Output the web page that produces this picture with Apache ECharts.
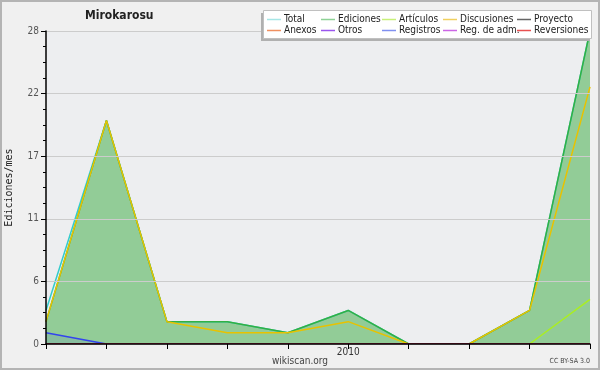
<!DOCTYPE html>
<html>
<head>
<meta charset="utf-8">
<script src="https://cdn.jsdelivr.net/npm/echarts@6/dist/echarts.min.js"></script>
<style>
  html, body { margin: 0; padding: 0; background: #f0f0f0; }
  #chart { width: 600px; height: 370px; }
</style>
</head>
<body>
<div id="chart"></div>
<script>
// meses (eje x)
var months = ['2009-08', '2009-09', '2009-10', '2009-11', '2009-12',
              '2010-01', '2010-02', '2010-03', '2010-04', '2010-05'];

// ediciones por mes
var total       = [3, 20, 2, 2, 1, 3, 0, 0, 3, 28];
var ediciones   = [2, 20, 2, 2, 1, 3, 0, 0, 3, 28];
var articulos   = [0, 0, 0, 0, 0, 0, 0, 0, 0, 4];
var discusiones = [2, 20, 2, 1, 1, 2, 0, 0, 3, 23];
var proyecto    = [0, 0, 0, 0, 0, 0, 0, 0, 0, 0];
var anexos      = [0, 0, 0, 0, 0, 0, 0, 0, 0, 0];
var otros       = [0, 0, 0, 0, 0, 0, 0, 0, 0, 0];
var registros   = [1, 0, 0, 0, 0, 0, 0, 0, 0, 0];
var regAdm      = [0, 0, 0, 0, 0, 0, 0, 0, 0, 0];
var reversiones = [0, 0, 0, 0, 0, 0, 0, 0, 0, 0];

var FONT = '"DejaVu Sans Condensed", "DejaVu Sans", sans-serif';

// colores: linea en el grafico / linea de la leyenda
var colors = {
    'Total':        ['#33cccc', '#a6e6e6'],
    'Ediciones':    ['#33b043', '#8ed296'],
    'Artículos':    ['#aaee22', '#c8f07a'],
    'Discusiones':  ['#e8c200', '#f0d060'],
    'Proyecto':     ['#444444', '#666666'],
    'Anexos':       ['#ee6622', '#f09060'],
    'Otros':        ['#7722dd', '#9a55ee'],
    'Registros':    ['#3344ee', '#8090f0'],
    'Reg. de adm.': ['#bb33dd', '#cc66e6'],
    'Reversiones':  ['#dd2222', '#e85050']
};

function lineSerie(name, data, extra) {
    var s = {
        name: name,
        type: 'line',
        data: data,
        symbol: 'none',
        lineStyle: { width: 1.5, color: colors[name][0] },
        itemStyle: { color: colors[name][0] },
        emphasis: { disabled: true }
    };
    for (var k in extra) s[k] = extra[k];
    return s;
}

// una leyenda por columna, para alinear como en el original
var legendCols = [
    [267, ['Total', 'Anexos']],
    [321, ['Ediciones', 'Otros']],
    [382, ['Artículos', 'Registros']],
    [443, ['Discusiones', 'Reg. de adm.']],
    [517, ['Proyecto', 'Reversiones']]
];
var legends = legendCols.map(function (c) {
    return {
        orient: 'vertical',
        left: c[0],
        top: 14,
        padding: 0,
        itemGap: 0,
        itemWidth: 14,
        itemHeight: 1.5,
        icon: 'rect',
        selectedMode: false,
        z: 20,
        textStyle: { fontFamily: FONT, fontSize: 10, color: '#222', lineHeight: 11, padding: [0, 0, 0, -2] },
        data: c[1].map(function (n) {
            return { name: n, itemStyle: { color: colors[n][1] } };
        })
    };
});

var chart = echarts.init(document.getElementById('chart'), null, { renderer: 'canvas' });
var option = {
    animation: false,
    backgroundColor: '#f0f0f0',
    title: {
        text: 'Mirokarosu',
        left: 85,
        top: 10,
        padding: 0,
        textStyle: { fontFamily: FONT, fontSize: 12, fontWeight: 'bold', color: '#222' }
    },
    legend: legends,
    graphic: [
        {
            type: 'rect', z: -1, silent: true,
            shape: { x: 1, y: 1, width: 598, height: 368 },
            style: { fill: null, stroke: '#b4b4b4', lineWidth: 2 }
        },
        {
            // sombra de la leyenda
            type: 'rect', z: 14, silent: true,
            shape: { x: 261, y: 13, width: 329, height: 28 },
            style: { fill: '#b0b0b0' }
        },
        {
            type: 'rect', z: 15, silent: true,
            shape: { x: 263.5, y: 10.5, width: 328, height: 28 },
            style: { fill: '#ffffff', stroke: '#c0c0c0', lineWidth: 1 }
        },
        {
            type: 'text', left: 'center', top: 356, silent: true,
            style: { text: 'wikiscan.org', fontFamily: FONT, fontSize: 10, fill: '#444' }
        },
        {
            type: 'text', right: 10, top: 358, silent: true,
            style: { text: 'CC BY-SA 3.0', fontFamily: FONT, fontSize: 7, fill: '#444' }
        }
    ],
    grid: {
        left: 46, right: 10, top: 31, bottom: 26,
        outerBoundsMode: 'none',
        containLabel: false,
        show: true, backgroundColor: '#edeef0', borderWidth: 0
    },
    xAxis: {
        type: 'category',
        data: months,
        boundaryGap: false,
        z: 10,
        axisLine: { lineStyle: { color: '#000', width: 1.5 } },
        axisTick: { interval: 0, length: 5, lineStyle: { color: '#000' } },
        axisLabel: {
            interval: 0, margin: 3,
            fontFamily: FONT, fontSize: 10, color: '#333',
            formatter: function (v) { return v.slice(5) === '01' ? v.slice(0, 4) : ''; }
        },
        splitLine: { show: false }
    },
    yAxis: {
        type: 'value',
        min: 0, max: 28, interval: 5.6,
        name: 'Ediciones/mes',
        nameLocation: 'middle',
        nameGap: 32,
        nameTextStyle: { fontFamily: '"DejaVu Sans Mono", monospace', fontSize: 10, color: '#222' },
        z: 10,
        axisLine: { show: true, lineStyle: { color: '#000', width: 1.5 } },
        axisTick: { show: true, length: 5, lineStyle: { color: '#000' } },
        minorTick: { show: true, splitNumber: 4, length: 3, lineStyle: { color: '#000' } },
        axisLabel: {
            margin: 7, fontFamily: FONT, fontSize: 10, color: '#555',
            formatter: function (v) { return Math.round(v); }
        },
        splitLine: { lineStyle: { color: '#cccccc', width: 1 } }
    },
    series: [
        lineSerie('Total', total),
        lineSerie('Ediciones', ediciones, { areaStyle: { color: 'rgb(50,170,60)', opacity: 0.49 } }),
        lineSerie('Artículos', articulos),
        lineSerie('Discusiones', discusiones),
        lineSerie('Proyecto', proyecto),
        lineSerie('Anexos', anexos),
        lineSerie('Otros', otros),
        lineSerie('Registros', registros, { areaStyle: { color: '#3344ee', opacity: 0.1 } }),
        lineSerie('Reg. de adm.', regAdm),
        lineSerie('Reversiones', reversiones)
    ]
};
chart.setOption(option);
</script>
</body>
</html>
